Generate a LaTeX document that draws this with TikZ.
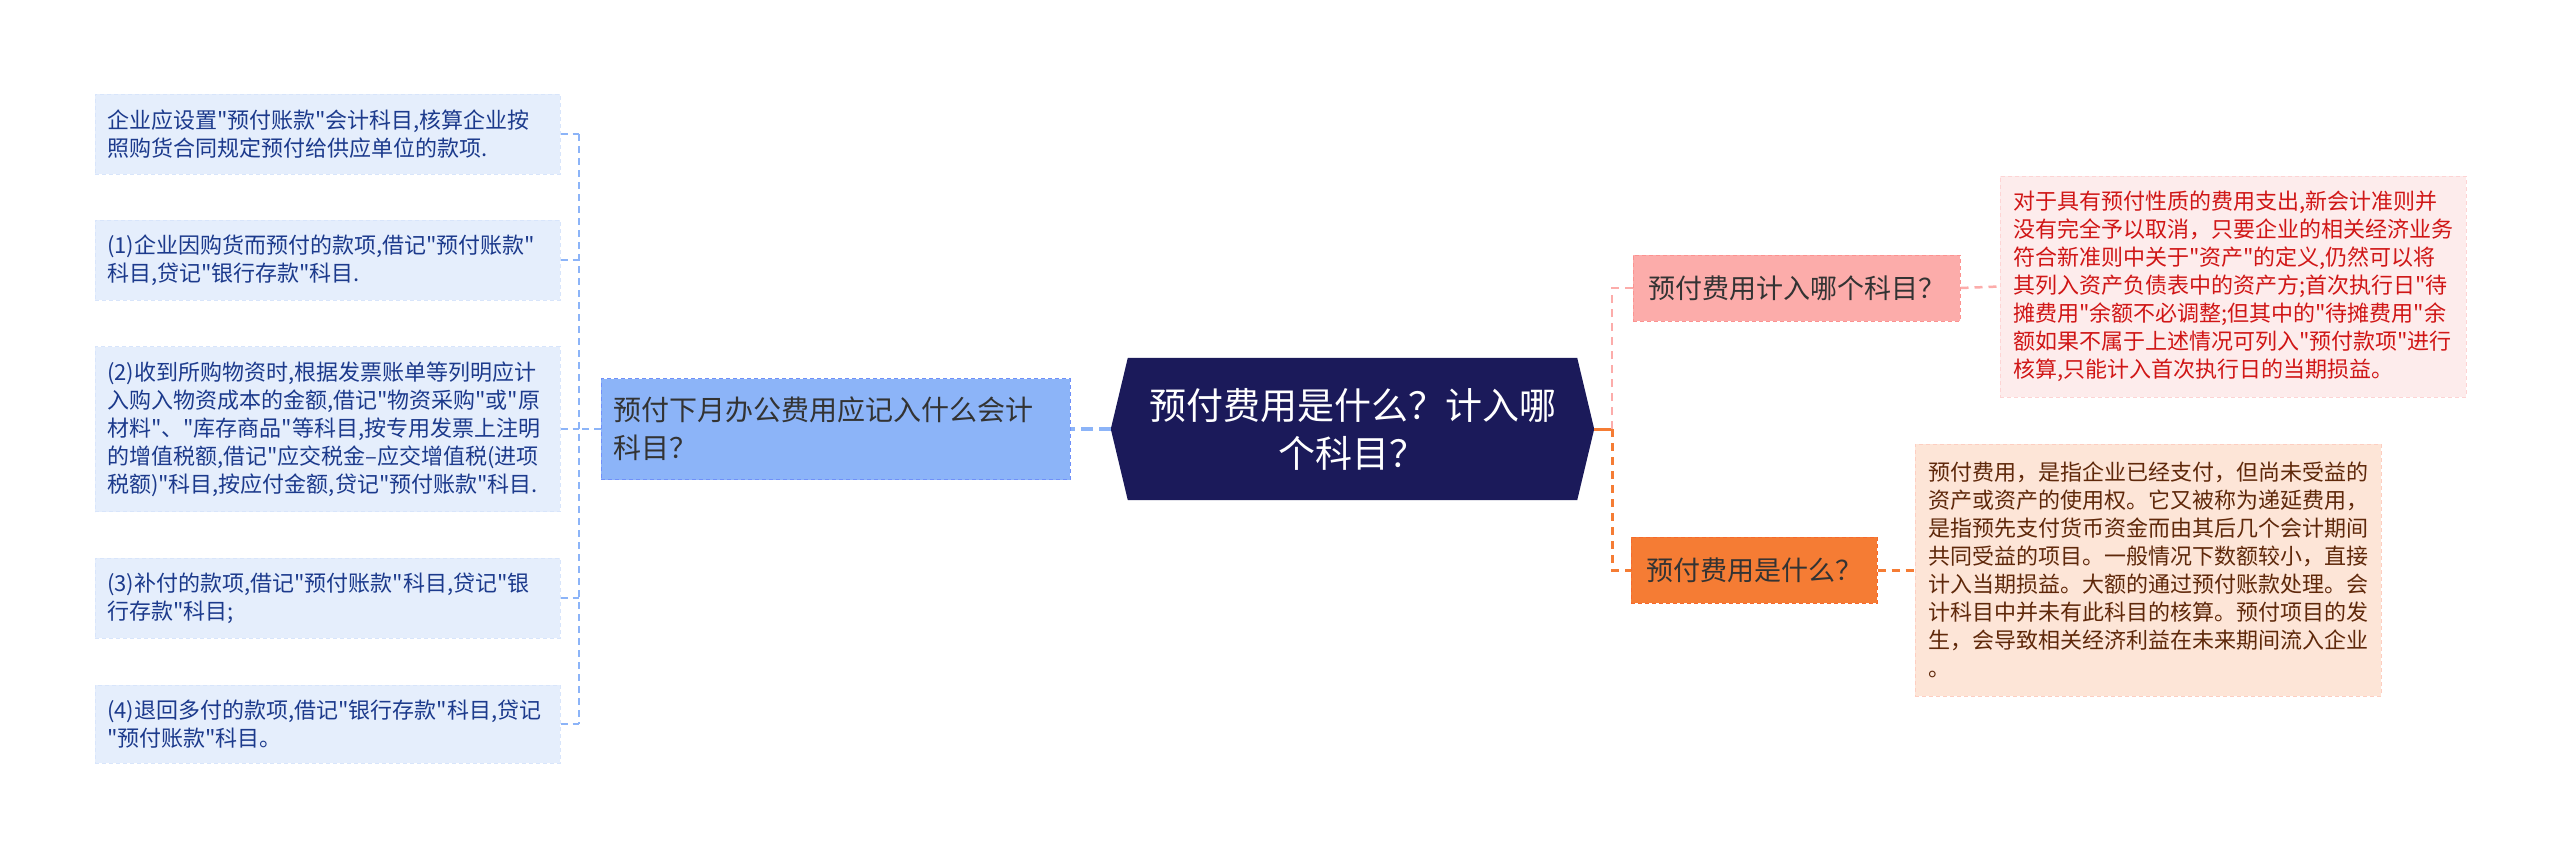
\documentclass[tikz,border=0pt]{standalone}
\usepackage{fontspec}
\newfontfamily\cjk{Noto Sans CJK SC}
\usepackage{tikz}
\usepackage{xcolor}
\usetikzlibrary{positioning, backgrounds}
\definecolor{mNavy}{RGB}{27,26,90}
\definecolor{mBlue}{RGB}{140,180,248}
\definecolor{mLeaf}{RGB}{229,238,252}
\definecolor{mLeafText}{RGB}{28,58,140}
\definecolor{mPink}{RGB}{252,172,170}
\definecolor{mRose}{RGB}{253,236,236}
\definecolor{mRed}{RGB}{208,22,22}
\definecolor{mOrange}{RGB}{245,124,52}
\definecolor{mPeach}{RGB}{253,229,215}
\definecolor{mBrown}{RGB}{95,40,10}

\begin{document}
\begin{tikzpicture}[x=1pt, y=-1pt,
  box/.style={draw, dash pattern=on 4pt off 3pt, line width=1pt, align=left, inner ysep=0pt},
  leaf/.style={box, fill=mLeaf, draw=mLeaf!85!mBlue, text=mLeafText, text width=441pt, inner xsep=12pt,
    font=\cjk\fontsize{22}{28}\selectfont},
  note/.style={box, text width=440pt, inner xsep=13pt, font=\cjk\fontsize{22}{28}\selectfont},
  topic/.style={box, inner xsep=15pt, minimum height=66pt, text=black!80, font=\cjk\fontsize{27}{34}\selectfont},
  leafline/.style={mBlue, line width=1.5pt, dash pattern=on 7pt off 5pt},
  pinkline/.style={mPink, line width=2.5pt, dash pattern=on 8pt off 6pt},
  orangeline/.style={mOrange, line width=3pt, dash pattern=on 8pt off 6pt}]
  \begin{scope}[on background layer]
    \fill[white] (0,0) rectangle (2560,859);
  \end{scope}
  \useasboundingbox (0,0) rectangle (2560,859);

  \node[text=white, align=center, minimum width=483pt, minimum height=142pt, inner sep=0pt,
    font=\cjk\fontsize{37}{48}\selectfont] (root) at (1352.5,429) {预付费用是什么？计入哪\\个科目？};
  \begin{scope}[on background layer]
    \fill[mNavy] (root.west) -- ([xshift=17pt]root.north west) -- ([xshift=-17pt]root.north east)
      -- (root.east) -- ([xshift=-17pt]root.south east) -- ([xshift=17pt]root.south west) -- cycle;
  \end{scope}

  \node[box, fill=mBlue, draw=mBlue!80!blue, text=black!80, text width=445pt, inner xsep=12pt,
    minimum height=101pt, font=\cjk\fontsize{28}{38}\selectfont] (mid) at (835.5,429)
    {预付下月办公费用应记入什么会计\\科目？};
  \draw[mBlue, line width=4pt, dash pattern=on 12pt off 6pt] (root.west) -- (mid.east);

  \coordinate (lbus) at (579,429);
  \foreach \i/\y/\h/\txt in {
    1/134/80/{企业应设置"预付账款"会计科目,核算企业按\\照购货合同规定预付给供应单位的款项.},
    2/260/80/{(1)企业因购货而预付的款项,借记"预付账款"\\科目,贷记"银行存款"科目.},
    3/429/165/{(2)收到所购物资时,根据发票账单等列明应计\\入购入物资成本的金额,借记"物资采购"或"原\\材料"、"库存商品"等科目,按专用发票上注明\\的增值税额,借记"应交税金–应交增值税(进项\\税额)"科目,按应付金额,贷记"预付账款"科目.},
    4/598/80/{(3)补付的款项,借记"预付账款"科目,贷记"银\\行存款"科目;},
    5/724/78/{(4)退回多付的款项,借记"银行存款"科目,贷记\\"预付账款"科目。}
  } {
    \node[leaf, minimum height=\h pt] (l\i) at (327.5,\y) {\txt};
    \draw[leafline] (l\i.east) -- (l\i.east -| lbus);
  }
  \draw[leafline] (l1.east -| lbus) -- (l5.east -| lbus);
  \draw[leafline] (mid.west) -- (lbus);

  \node[topic, fill=mPink, draw=mPink!85!red] (pnode) at (1796.5,288) {预付费用计入哪个科目？};
  \node[topic, fill=mOrange, draw=mOrange!85!red] (onode) at (1754,570) {预付费用是什么？};
  \node[note, fill=mRose, draw=mRose!90!red, text=mRed, minimum height=221pt] (pnote) at (2233,286.5)
    {对于具有预付性质的费用支出,新会计准则并\\没有完全予以取消，只要企业的相关经济业务\\符合新准则中关于"资产"的定义,仍然可以将\\其列入资产负债表中的资产方;首次执行日"待\\摊费用"余额不必调整;但其中的"待摊费用"余\\额如果不属于上述情况可列入"预付款项"进行\\核算,只能计入首次执行日的当期损益。};
  \node[note, fill=mPeach, draw=mPeach!90!red, text=mBrown, minimum height=252pt] (onote) at (2148,570)
    {预付费用，是指企业已经支付，但尚未受益的\\资产或资产的使用权。它又被称为递延费用，\\是指预先支付货币资金而由其后几个会计期间\\共同受益的项目。一般情况下数额较小，直接\\计入当期损益。大额的通过预付账款处理。会\\计科目中并未有此科目的核算。预付项目的发\\生，会导致相关经济利益在未来期间流入企业\\。};

  \coordinate (rjoin) at (1612,429);
  \draw[mOrange, line width=3pt] (root.east) -- (rjoin);
  \draw[pinkline] (rjoin) |- (pnode.west);
  \draw[orangeline] (rjoin) |- (onode.west);
  \draw[pinkline] (pnode.east) -- (pnote.west);
  \draw[orangeline] (onode.east) -- (onote.west);
\end{tikzpicture}
\end{document}
